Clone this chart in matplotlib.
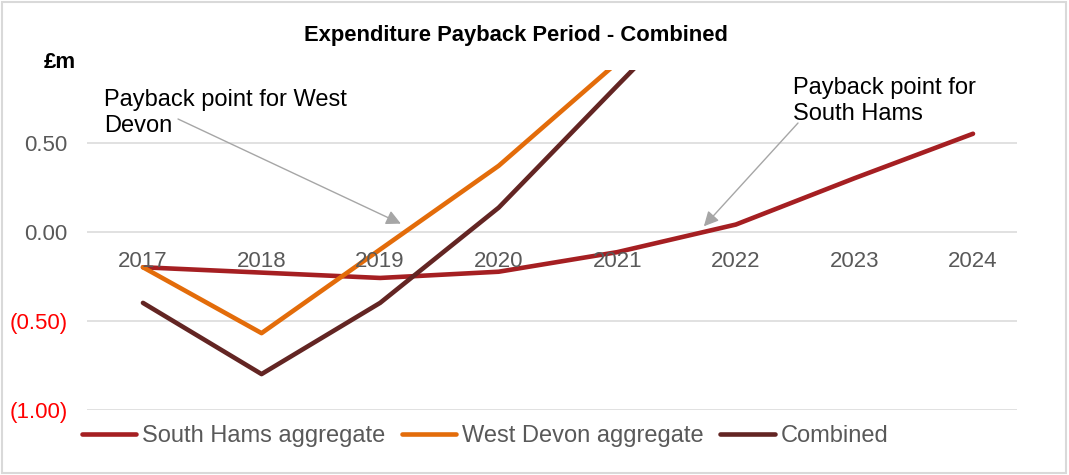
import numpy as np
import matplotlib
matplotlib.use("Agg")
import matplotlib.pyplot as plt
from matplotlib.patches import Rectangle

plt.rcParams['font.family'] = ['Liberation Sans', 'DejaVu Sans']

# Data (£m); values beyond the top of the axis are estimates
years = ["2017", "2018", "2019", "2020", "2021", "2022", "2023", "2024"]
south_hams = [-0.20, -0.23, -0.26, -0.225, -0.115, 0.04, 0.30, 0.55]
west_devon = [-0.20, -0.57, -0.10, 0.37, 0.95, 1.45, np.nan, np.nan]
combined = [-0.40, -0.80, -0.40, 0.135, 0.82, 1.50, np.nan, np.nan]
y_ticks = [-1.0, -0.5, 0.0, 0.5]
y_tick_labels = ["(1.00)", "(0.50)", "0.00", "0.50"]

series = [
    ("South Hams aggregate", south_hams, "#A51F22"),
    ("West Devon aggregate", west_devon, "#E36C0A"),
    ("Combined", combined, "#632523"),
]

fig = plt.figure(figsize=(10.69, 4.75), dpi=100)
ax = fig.add_axes([87 / 1069, 1 - 409.7 / 475, 930 / 1069, (409.7 - 70) / 475])

x = np.arange(len(years))
for name, vals, col in series:
    ax.plot(x, vals, color=col, lw=3.3, solid_capstyle='round',
            solid_joinstyle='round', label=name)

ax.set_xlim(-0.472, 7.371)
ax.set_ylim(-1.0, 0.908)

# gridlines
for t in y_ticks:
    ax.axhline(t, color="#d9d9d9", lw=1.1, zorder=0)

for s in ax.spines.values():
    s.set_visible(False)
ax.set_xticks([])
ax.set_yticks(y_ticks)
ax.set_yticklabels(y_tick_labels, fontsize=16)
ax.tick_params(axis='y', length=0, pad=14)
for lab, t in zip(ax.get_yticklabels(), y_ticks):
    lab.set_color("red" if t < 0 else "#595959")

# category labels sit just under the zero line
for i, yr in enumerate(years):
    ax.text(i, -0.165, yr, ha='center', va='center', fontsize=16, color="#595959")

fig.text(516 / 1069, 1 - 36 / 475, "Expenditure Payback Period - Combined",
         ha='center', va='center', fontsize=15.8, fontweight='bold')
fig.text(60 / 1069, 1 - 62 / 475, "£m", ha='center', va='center',
         fontsize=16, fontweight='bold')

arrow = dict(arrowstyle='-|>', color="#a6a6a6", lw=1, mutation_scale=22,
             shrinkA=0, shrinkB=0)
ax.annotate("", xy=(2.175, 0.045), xycoords='data',
            xytext=(178 / 1069, 1 - 119 / 475), textcoords='figure fraction',
            arrowprops=arrow)
ax.annotate("", xy=(4.73, 0.03), xycoords='data',
            xytext=(798 / 1069, 1 - 123 / 475), textcoords='figure fraction',
            arrowprops=arrow)
fig.text(104 / 1069, 1 - 89 / 475, "Payback point for West\nDevon",
         ha='left', va='top', fontsize=17, linespacing=1.22)
fig.text(793 / 1069, 1 - 77 / 475, "Payback point for\nSouth Hams",
         ha='left', va='top', fontsize=17, linespacing=1.22)

leg = fig.legend(loc='center', bbox_to_anchor=(485 / 1069, 1 - 436 / 475),
                 ncol=3, frameon=False, fontsize=17, handlelength=2.3,
                 handletextpad=0.25, columnspacing=0.7)
for t in leg.get_texts():
    t.set_color("#595959")

fig.patches.append(Rectangle((0.002, 0.004), 0.995, 0.992, transform=fig.transFigure,
                             fill=False, edgecolor="#d9d9d9", lw=1.5))

fig.savefig("out.png", dpi=100)
